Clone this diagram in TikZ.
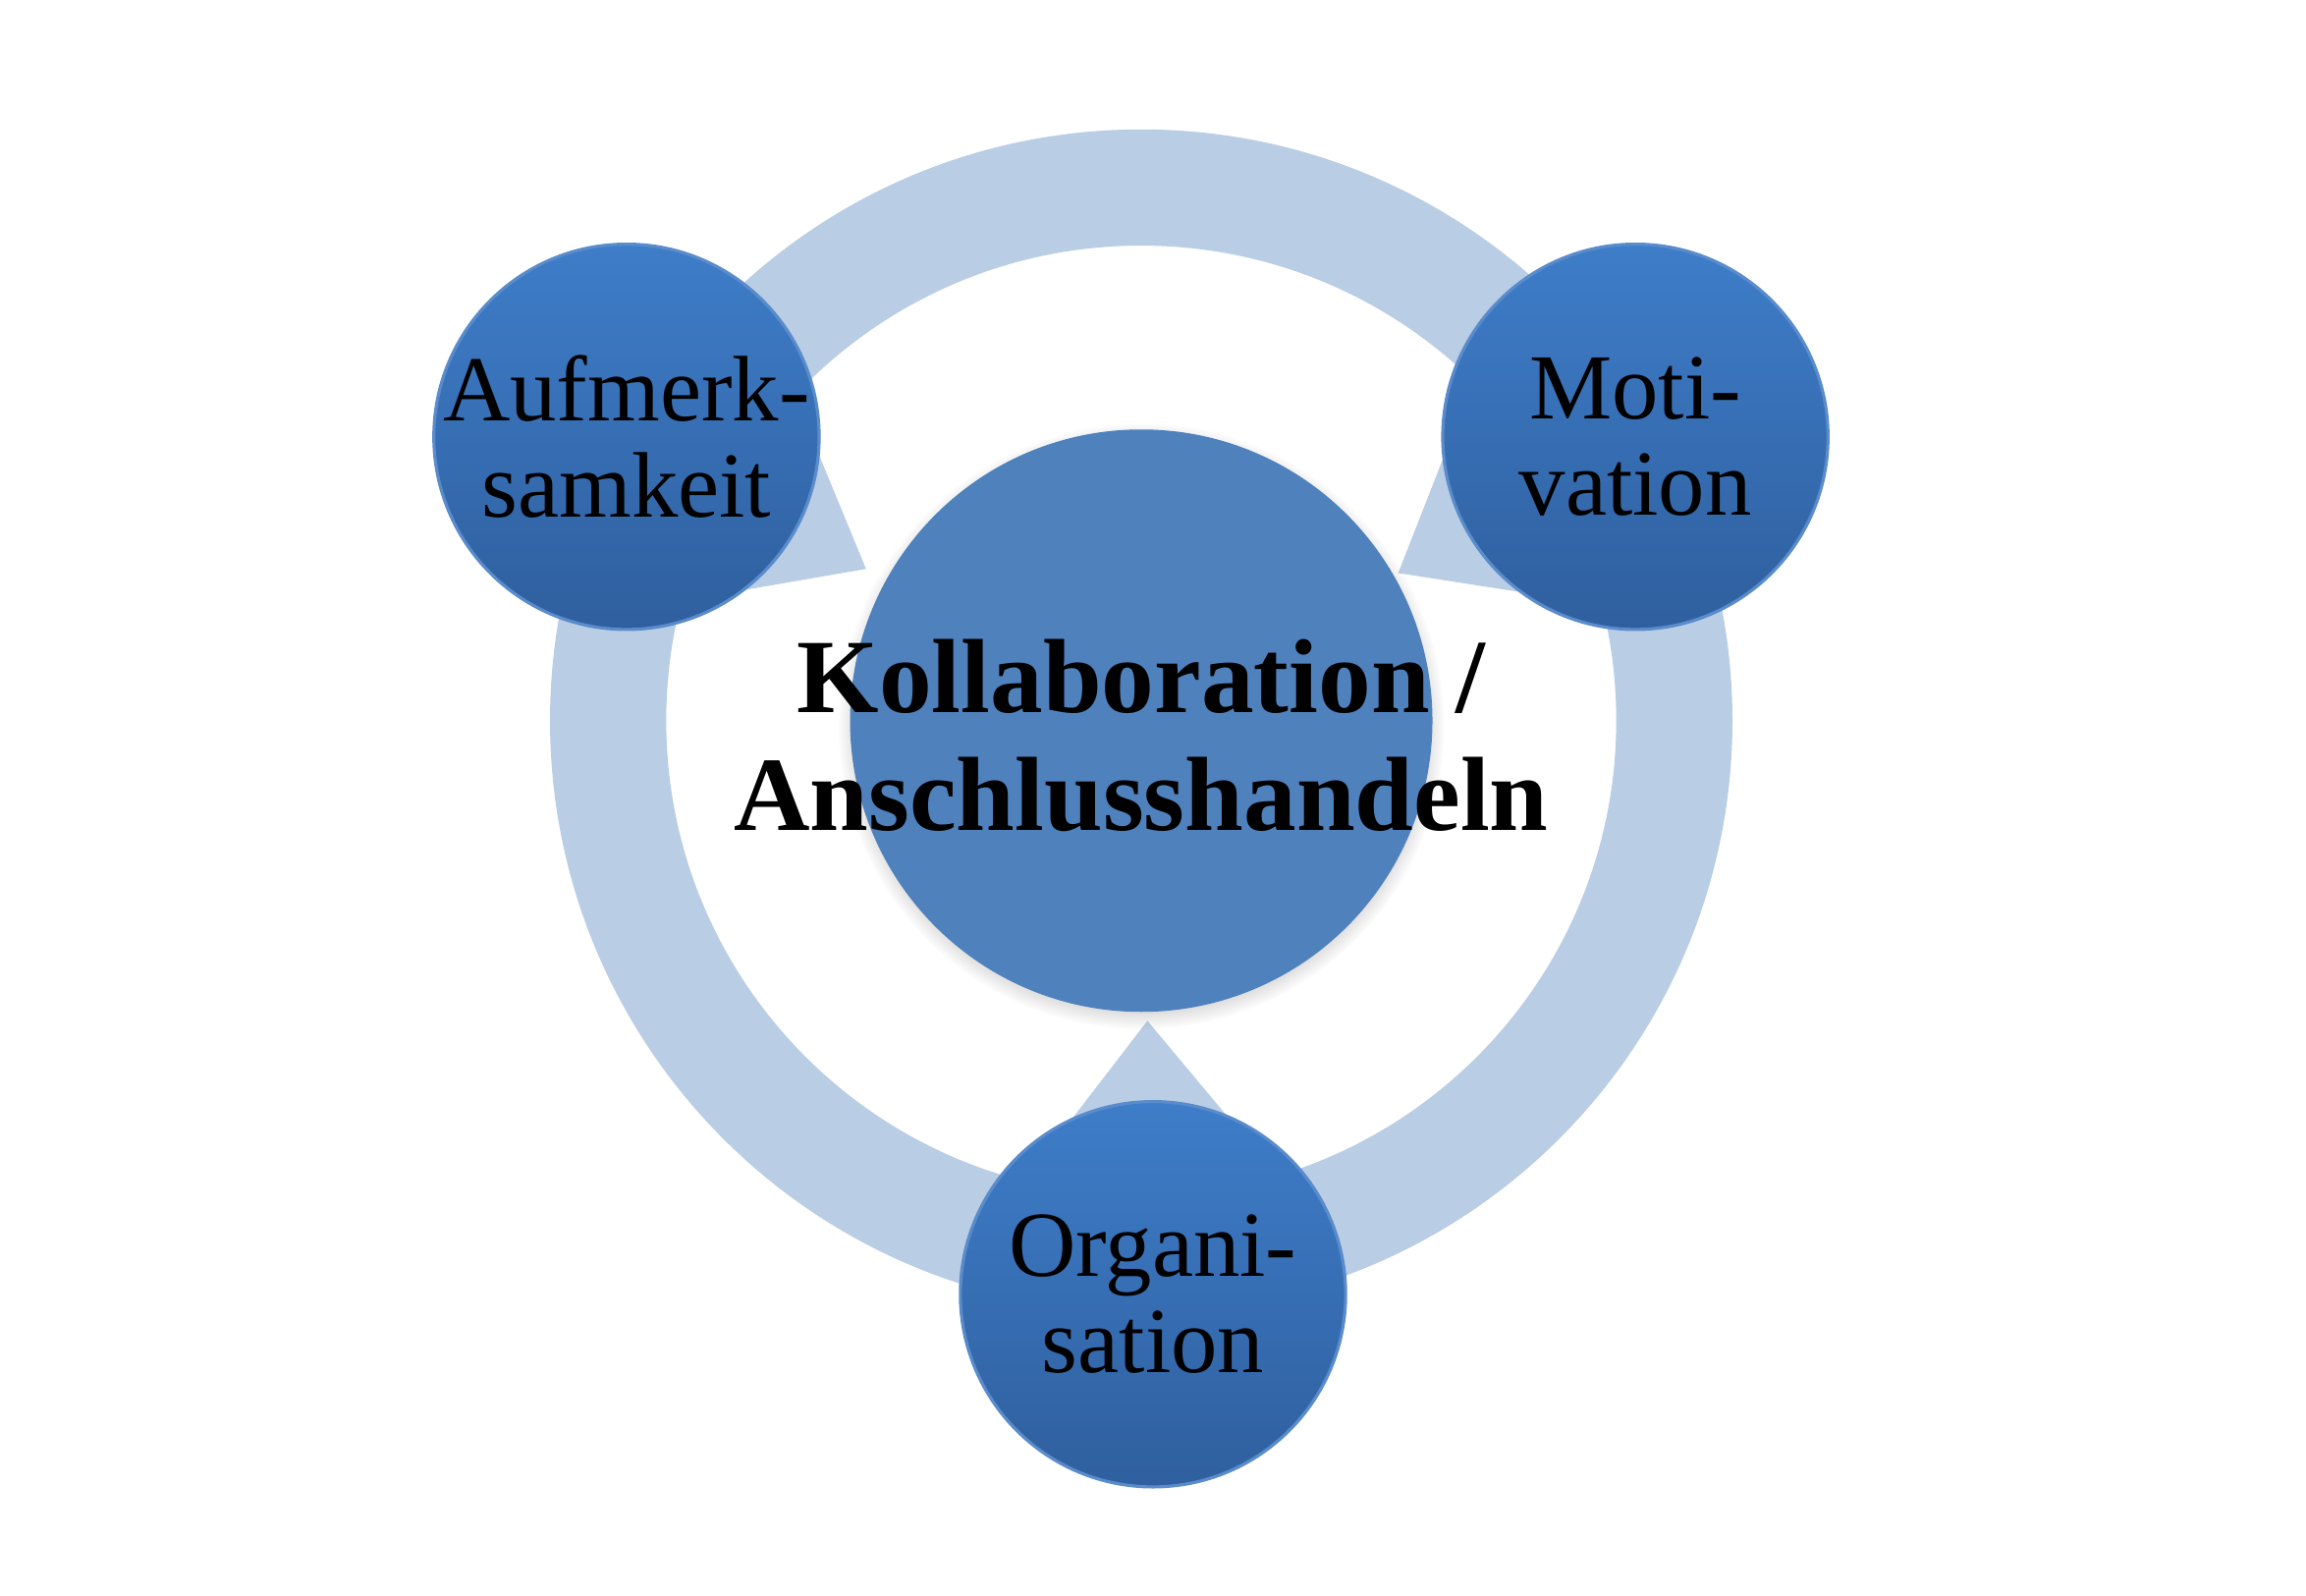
\documentclass[tikz,border=0pt]{standalone}
\usepackage{fontspec}
\setmainfont{Liberation Serif}
\usetikzlibrary{calc,shadows,backgrounds}
\definecolor{ringblue}{HTML}{B9CDE5}
\definecolor{coreblue}{HTML}{4F81BD}
\definecolor{balltop}{HTML}{3E7DC9}
\definecolor{ballbottom}{HTML}{2F5F9E}
\definecolor{ballrim}{HTML}{5A8CCB}
\def\ringout{4.02}
\def\ringin{3.23}
\def\tipdist{1.86cm}
\def\basedist{0.55cm}
\def\basehalf{1.05cm}

\begin{document}
\begin{tikzpicture}[
    ball/.style={
      circle, minimum size=2.62cm, inner sep=0pt,
      top color=balltop, bottom color=ballbottom,
      draw=ballrim, line width=0.6pt
    },
    balltext/.style={
      align=center, inner sep=0pt,
      font=\fontsize{18}{18.5}\selectfont
    },
    core/.style={
      circle, minimum size=3.96cm, inner sep=0pt, fill=coreblue,
      circular drop shadow={shadow scale=1.04, shadow xshift=0pt,
        shadow yshift=-1pt, opacity=0.65}
    },
    coretext/.style={
      align=center, inner sep=0pt,
      font=\fontsize{20.4}{22.8}\selectfont\bfseries
    },
    pointer/.style={
      fill=ringblue
    }
  ]
  \useasboundingbox (-7.76,-5.95) rectangle (7.92,4.90);

  % centre and the three balls
  \node[core] (core) at (0,0) {};
  \node[ball] (aufm) at (-3.50, 1.93) {};
  \node[ball] (moti) at ( 3.36, 1.93) {};
  \node[ball] (orga) at ( 0.08,-3.90) {};

  % labels
  \node[balltext] (aufmtext) at (aufm) {Aufmerk-\\samkeit};
  \node[balltext] (motitext) at (moti) {Moti-\\vation};
  \node[balltext] (orgatext) at (orga) {Organi-\\sation};
  \node[coretext] (coretitle) at (0,-0.10) {Kollaboration /\\Anschlusshandeln};

  \begin{pgfonlayer}{background}
    % ring
    \fill[ringblue,even odd rule] (core.center) circle (\ringout) (core.center) circle (\ringin);
    % pointers towards the centre
    \foreach \b in {aufm,moti,orga}{
      \fill[pointer] ($(\b)!\tipdist!(core)$)
        -- ($(\b)!\basedist!(core)!\basehalf!90:(core)$)
        -- ($(\b)!\basedist!(core)!\basehalf!-90:(core)$) -- cycle;
    }
  \end{pgfonlayer}
\end{tikzpicture}
\end{document}
